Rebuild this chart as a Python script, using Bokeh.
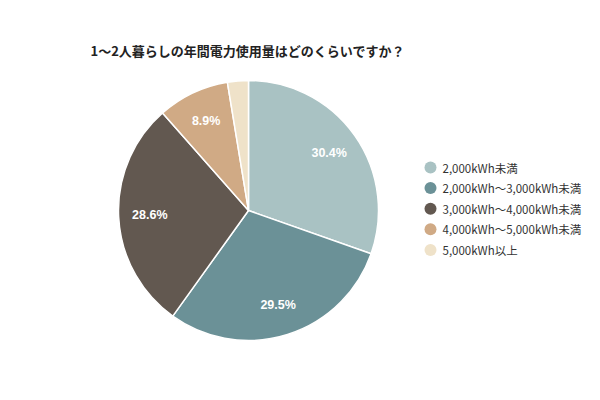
import numpy as np
from bokeh.plotting import figure
from bokeh.models import Range1d, ColumnDataSource
from bokeh.core.properties import value
from bokeh.embed import file_html
from bokeh.resources import INLINE

title_text = "1～2人暮らしの年間電力使用量はどのくらいですか？"
categories = ["2,000kWh未満", "2,000kWh～3,000kWh未満", "3,000kWh～4,000kWh未満",
              "4,000kWh～5,000kWh未満", "5,000kWh以上"]
shares = [30.4, 29.5, 28.6, 8.9, 2.6]
colors = ["#a9c2c3", "#6b9197", "#625850", "#d0aa85", "#efe2c9"]
label_text = ["30.4%", "29.5%", "28.6%", "8.9%", ""]

W, H = 584, 384
p = figure(width=W, height=H, output_backend="svg", toolbar_location=None,
           x_range=Range1d(0, W), y_range=Range1d(0, H),
           min_border=0, outline_line_color=None, background_fill_color="white")
p.axis.visible = False
p.grid.visible = False

cx, cy, r = 248, 174, 130
vals = np.array(shares)
frac = vals / vals.sum()
cum_end = np.cumsum(frac)
cum_start = cum_end - frac
start = np.pi / 2 - cum_end * 2 * np.pi
end = np.pi / 2 - cum_start * 2 * np.pi
src = ColumnDataSource(dict(start=start, end=end, color=colors))
p.wedge(x=cx, y=cy, radius=r, start_angle="start", end_angle="end",
        fill_color="color", line_color="white", line_width=1.5, source=src)

mid = (cum_start + cum_end) / 2 * 2 * np.pi
lr = 0.76 * r
lx = cx + lr * np.sin(mid)
ly = cy + lr * np.cos(mid)
p.text(x=lx, y=ly, text=label_text, text_color="white", text_font=value("Liberation Sans"),
       text_font_style="bold", text_font_size="12.5px", text_align="center",
       text_baseline="middle")

# title
p.text(x=[90], y=[H - 50], text=[title_text], text_font=value("Noto Sans CJK JP"),
       text_font_style="bold", text_font_size="13px", text_color="#222222",
       text_baseline="middle", text_align="left")

# legend
n = len(categories)
ly0 = H - 167
step = 20.6
leg_y = [ly0 - i * step for i in range(n)]
p.scatter(x=[430] * n, y=leg_y, size=12, marker="circle", fill_color=colors, line_color=None)
p.text(x=[442] * n, y=leg_y, text=categories, text_font=value("Noto Sans CJK JP"),
       text_font_size="11.5px", text_color="#333333", text_baseline="middle", text_align="left")

open("out.html", "w").write(file_html(p, INLINE))
